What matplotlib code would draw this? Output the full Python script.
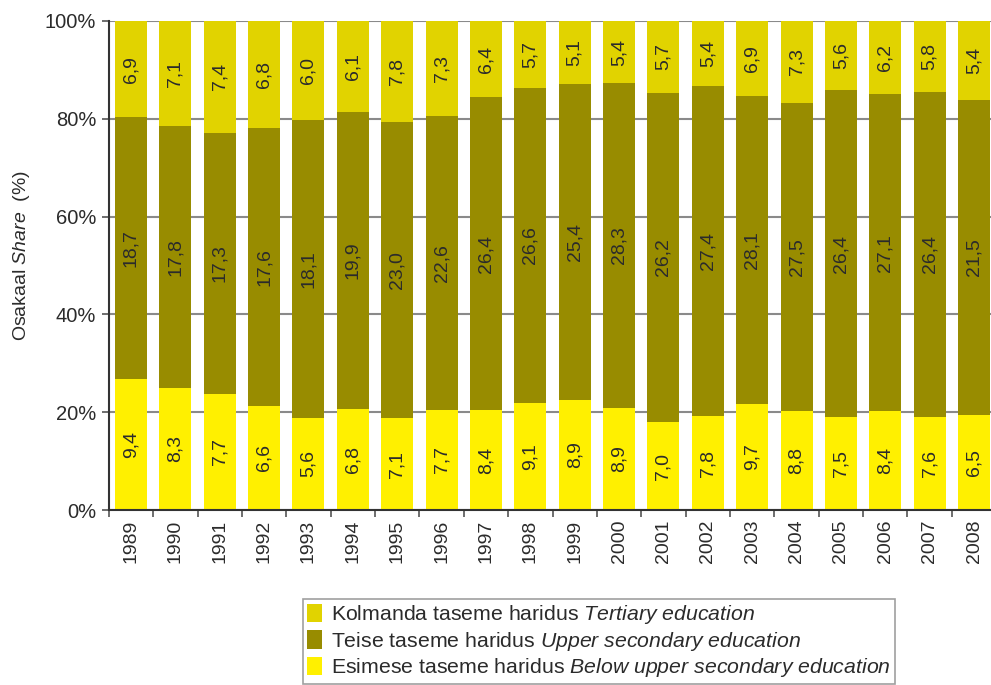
import numpy as np
import matplotlib
matplotlib.use("Agg")
import matplotlib.pyplot as plt
from matplotlib.ticker import FixedLocator, PercentFormatter

plt.rcParams['font.family'] = ['Liberation Sans', 'DejaVu Sans']
plt.rcParams['mathtext.fontset'] = 'custom'
plt.rcParams['mathtext.rm'] = 'Liberation Sans'
plt.rcParams['mathtext.it'] = 'Liberation Sans:italic'

years = ["1989", "1990", "1991", "1992", "1993", "1994", "1995", "1996", "1997", "1998",
         "1999", "2000", "2001", "2002", "2003", "2004", "2005", "2006", "2007", "2008"]
below = [9.4, 8.3, 7.7, 6.6, 5.6, 6.8, 7.1, 7.7, 8.4, 9.1, 8.9, 8.9, 7.0, 7.8, 9.7, 8.8, 7.5, 8.4, 7.6, 6.5]
upper = [18.7, 17.8, 17.3, 17.6, 18.1, 19.9, 23.0, 22.6, 26.4, 26.6, 25.4, 28.3, 26.2, 27.4, 28.1, 27.5, 26.4, 27.1, 26.4, 21.5]
tertiary = [6.9, 7.1, 7.4, 6.8, 6.0, 6.1, 7.8, 7.3, 6.4, 5.7, 5.1, 5.4, 5.7, 5.4, 6.9, 7.3, 5.6, 6.2, 5.8, 5.4]

series_labels = [
    r"Kolmanda taseme haridus $\mathit{Tertiary\ education}$",
    r"Teise taseme haridus $\mathit{Upper\ secondary\ education}$",
    r"Esimese taseme haridus $\mathit{Below\ upper\ secondary\ education}$",
]
colors = {"tertiary": "#E1D300", "upper": "#988C00", "below": "#FFF000"}

b = np.array(below)
u = np.array(upper)
t = np.array(tertiary)
tot = b + u + t
pb, pu, pt = b / tot * 100, u / tot * 100, t / tot * 100

fig = plt.figure(figsize=(9.91, 6.85), dpi=100)
ax = fig.add_axes([108.8 / 991, 1 - 510 / 685, (996.2 - 108.8) / 991, 489 / 685])

x = np.arange(len(years))
w = 0.72
txtc = "#2b2b2b"
bars_b = ax.bar(x, pb, w, color=colors["below"], zorder=2, label=series_labels[2])
bars_u = ax.bar(x, pu, w, bottom=pb, color=colors["upper"], zorder=2, label=series_labels[1])
bars_t = ax.bar(x, pt, w, bottom=pb + pu, color=colors["tertiary"], zorder=2, label=series_labels[0])

for vals, bottoms, pct in [(below, np.zeros_like(pb), pb), (upper, pb, pu), (tertiary, pb + pu, pt)]:
    for i, v in enumerate(vals):
        ax.text(x[i], bottoms[i] + pct[i] / 2, f"{v:.1f}".replace(".", ","), rotation=90,
                ha="center", va="center", fontsize=14, color=txtc, zorder=3)

ax.set_xlim(-0.5, len(years) - 0.5)
ax.set_ylim(0, 100)
ax.yaxis.set_major_locator(FixedLocator([0, 20, 40, 60, 80, 100]))
ax.yaxis.set_major_formatter(PercentFormatter(decimals=0))
ax.set_xticks(x)
ax.set_xticklabels(years, rotation=90)
ax.xaxis.set_minor_locator(FixedLocator(np.arange(-0.5, len(years), 1.0)))
ax.tick_params(axis="x", which="major", length=0, pad=7, labelsize=14, labelcolor=txtc)
ax.tick_params(axis="x", which="minor", length=5, color="#555555", width=1.2)
ax.tick_params(axis="y", length=5, color="#555555", width=1.2, labelsize=14.5, labelcolor=txtc, pad=4)

ax.grid(axis="y", color="#8a8a8a", linewidth=1.5, zorder=0)
ax.set_axisbelow(True)
for s in ["top", "right"]:
    ax.spines[s].set_visible(False)
ax.spines["left"].set_color("#333333")
ax.spines["left"].set_linewidth(1.5)
ax.spines["bottom"].set_color("#333333")
ax.spines["bottom"].set_linewidth(1.5)

ax.set_ylabel(r"Osakaal $\mathit{Share}$  (%)", fontsize=14, color=txtc)
ax.yaxis.set_label_coords(-0.087, 0.52)

handles = [bars_t, bars_u, bars_b]
leg = fig.legend(handles, series_labels, loc="upper left",
                 bbox_to_anchor=(303 / 991, 1 - 599 / 685), fontsize=15.3,
                 frameon=True, fancybox=False, edgecolor="#888888",
                 handlelength=0.7, handleheight=0.95, handletextpad=0.4,
                 labelspacing=0.17, borderpad=0.2, borderaxespad=0)
leg.get_frame().set_linewidth(1.2)
for txt in leg.get_texts():
    txt.set_color(txtc)

fig.savefig("out.png", dpi=100)
